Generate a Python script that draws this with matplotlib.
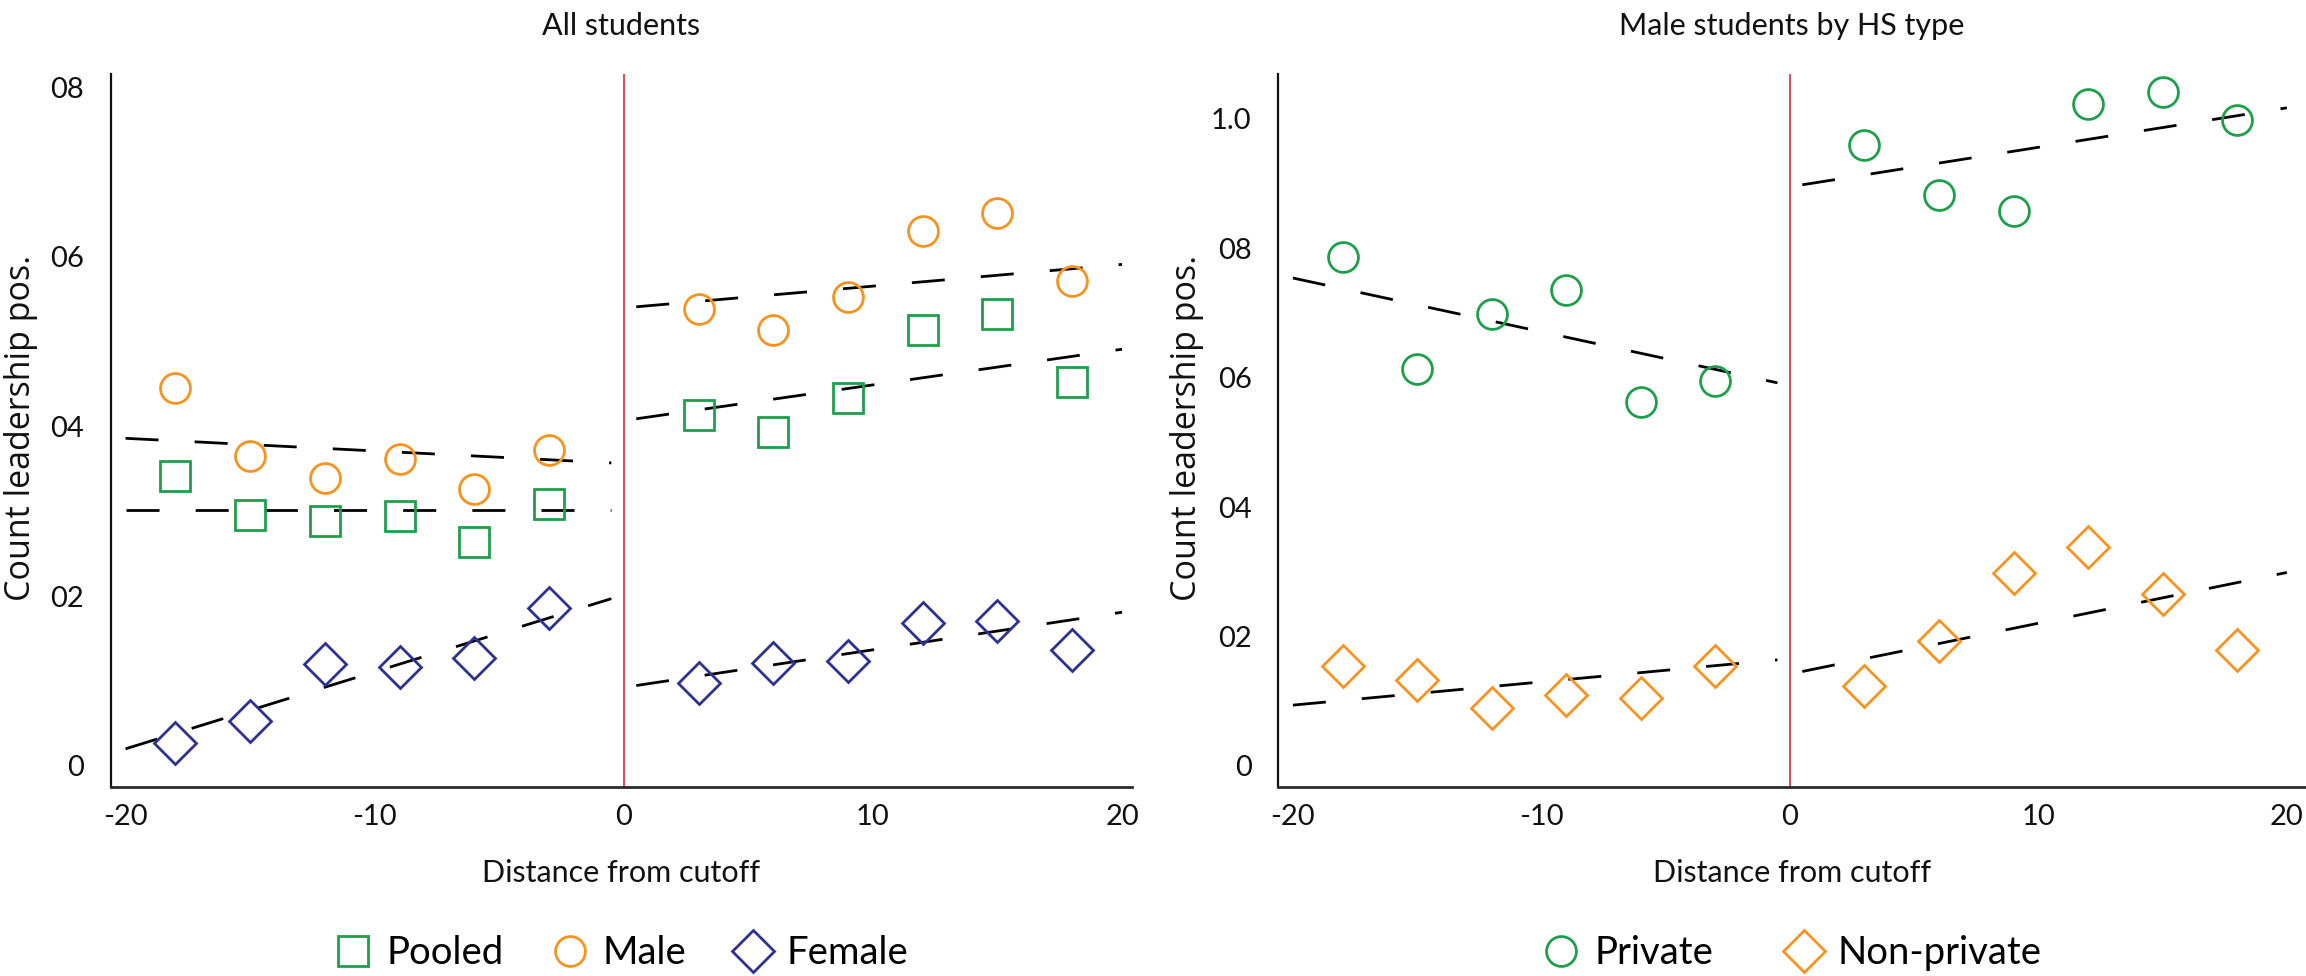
import matplotlib
matplotlib.use("Agg")
import matplotlib.pyplot as plt
from matplotlib.lines import Line2D

# ---------------- data ----------------
bins_left = [-18, -15, -12, -9, -6, -3]
bins_right = [3, 6, 9, 12, 15, 18]

pooled_left = [0.341, 0.296, 0.288, 0.295, 0.264, 0.308]
pooled_right = [0.414, 0.394, 0.433, 0.514, 0.532, 0.452]
male_left = [0.445, 0.365, 0.339, 0.362, 0.326, 0.372]
male_right = [0.539, 0.514, 0.553, 0.630, 0.651, 0.572]
female_left = [0.027, 0.053, 0.120, 0.117, 0.127, 0.186]
female_right = [0.098, 0.121, 0.124, 0.168, 0.171, 0.136]

private_left = [0.787, 0.613, 0.699, 0.735, 0.563, 0.595]
private_right = [0.960, 0.883, 0.858, 1.023, 1.041, 0.998]
nonpriv_left = [0.155, 0.133, 0.090, 0.110, 0.105, 0.155]
nonpriv_right = [0.124, 0.193, 0.298, 0.339, 0.265, 0.179]

# linear fits, evaluated at the ends of each side
fit_x_left = [-20, -0.5]
fit_x_right = [0.5, 20]
fit_pooled_left = [0.301, 0.301]
fit_pooled_right = [0.409, 0.491]
fit_male_left = [0.386, 0.357]
fit_male_right = [0.541, 0.591]
fit_female_left = [0.020, 0.197]
fit_female_right = [0.0946, 0.181]
fit_private_left = [0.754, 0.592]
fit_private_right = [0.898, 1.017]
fit_nonpriv_left = [0.094, 0.164]
fit_nonpriv_right = [0.146, 0.299]

x_ticks = [-20, -10, 0, 10, 20]
x_ticklabels = ["-20", "-10", "0", "10", "20"]
yL_ticks = [0, 0.2, 0.4, 0.6, 0.8]
yL_ticklabels = ["0", "02", "04", "06", "08"]
yR_ticks = [0, 0.2, 0.4, 0.6, 0.8, 1.0]
yR_ticklabels = ["0", "02", "04", "06", "08", "1.0"]

# ---------------- style ----------------
GREEN = "#1e9f4b"
ORANGE = "#f7931e"
NAVY = "#2e3192"
RED = "#dc3a45"
FONT = ["Lato", "DejaVu Sans"]
YFONT = ["Open Sans", "DejaVu Sans"]
MS = 21.5
MEW = 2.0
DASH = (0, (11.9, 13.0))

W, H = 2306, 976
fig = plt.figure(figsize=(W / 100, H / 100), dpi=100)

ax_bottom_px, ax_top_px = 787, 73.5
axL = fig.add_axes([110.6 / W, 1 - ax_bottom_px / H, (1132 - 110.6) / W, (ax_bottom_px - ax_top_px) / H])
axR = fig.add_axes([1278 / W, 1 - ax_bottom_px / H, (2306 - 1278) / W, (ax_bottom_px - ax_top_px) / H])


def style_axes(ax, xlim, ylim, yticks, yticklabels):
    ax.set_xlim(*xlim)
    ax.set_ylim(*ylim)
    for s in ["top", "right"]:
        ax.spines[s].set_visible(False)
    ax.spines["left"].set_linewidth(1.6)
    ax.spines["left"].set_color("#111111")
    ax.spines["bottom"].set_linewidth(2.0)
    ax.spines["bottom"].set_color("#2a2a2a")
    ax.set_xticks(x_ticks)
    ax.set_xticklabels(x_ticklabels, fontfamily=FONT, fontsize=21)
    ax.set_yticks(yticks)
    ax.set_yticklabels(yticklabels, fontfamily=FONT, fontsize=21)
    ax.tick_params(axis="x", length=0, pad=12, colors="#111111")
    ax.tick_params(axis="y", length=0, pad=19, colors="#111111")
    ax.axvline(0, color=RED, lw=1.3, zorder=1)


def scatter(ax, xs, ys, marker, color):
    ax.plot(xs, ys, linestyle="none", marker=marker, markersize=MS,
            markerfacecolor="none", markeredgecolor=color, markeredgewidth=MEW, zorder=3)


def fit(ax, xs, ys):
    ax.plot(xs, ys, color="black", lw=2.0, linestyle=DASH, zorder=2)


# Left panel
style_axes(axL, (-20.6, 20.4), (-0.025, 0.816), yL_ticks, yL_ticklabels)
for fx, fy in [(fit_x_left, fit_male_left), (fit_x_right, fit_male_right),
               (fit_x_left, fit_pooled_left), (fit_x_right, fit_pooled_right),
               (fit_x_left, fit_female_left), (fit_x_right, fit_female_right)]:
    fit(axL, fx, fy)
scatter(axL, bins_left + bins_right, pooled_left + pooled_right, "s", GREEN)
scatter(axL, bins_left + bins_right, male_left + male_right, "o", ORANGE)
scatter(axL, bins_left + bins_right, female_left + female_right, "D", NAVY)

# Right panel
style_axes(axR, (-20.6, 20.77), (-0.0325, 1.070), yR_ticks, yR_ticklabels)
for fx, fy in [(fit_x_left, fit_private_left), (fit_x_right, fit_private_right),
               (fit_x_left, fit_nonpriv_left), (fit_x_right, fit_nonpriv_right)]:
    fit(axR, fx, fy)
scatter(axR, bins_left + bins_right, private_left + private_right, "o", GREEN)
scatter(axR, bins_left + bins_right, nonpriv_left + nonpriv_right, "D", ORANGE)

# Titles, labels
for ax, title in [(axL, "All students"), (axR, "Male students by HS type")]:
    ax.text(0.5, 1.066, title, transform=ax.transAxes, ha="center", va="center",
            fontfamily=FONT, fontsize=22, color="#111111")
    ax.text(0.5, -0.121, "Distance from cutoff", transform=ax.transAxes, ha="center",
            va="center", fontfamily=FONT, fontsize=22, color="#111111")

fig.text(21 / W, 1 - 428 / H, "Count leadership pos.", rotation=90, ha="center", va="center",
         fontfamily=YFONT, fontsize=24.5, color="#111111")
fig.text(1187.5 / W, 1 - 428 / H, "Count leadership pos.", rotation=90, ha="center", va="center",
         fontfamily=YFONT, fontsize=24.5, color="#111111")


def handle(marker, color):
    return Line2D([], [], linestyle="none", marker=marker, markersize=MS,
                  markerfacecolor="none", markeredgecolor=color, markeredgewidth=MEW)


leg_kw = dict(loc="center", ncol=3, frameon=False, handlelength=0.95, handletextpad=0.4,
              columnspacing=1.25, prop={"family": FONT, "size": 27.5}, numpoints=1)
axL.legend([handle("s", GREEN), handle("o", ORANGE), handle("D", NAVY)],
           ["Pooled", "Male", "Female"], bbox_to_anchor=(0.5, -0.233), **leg_kw)
leg_kw["ncol"] = 2
leg_kw["columnspacing"] = 1.9
axR.legend([handle("o", GREEN), handle("D", ORANGE)],
           ["Private", "Non-private"], bbox_to_anchor=(0.5, -0.233), **leg_kw)

fig.savefig("out.png", dpi=100, facecolor="white")
